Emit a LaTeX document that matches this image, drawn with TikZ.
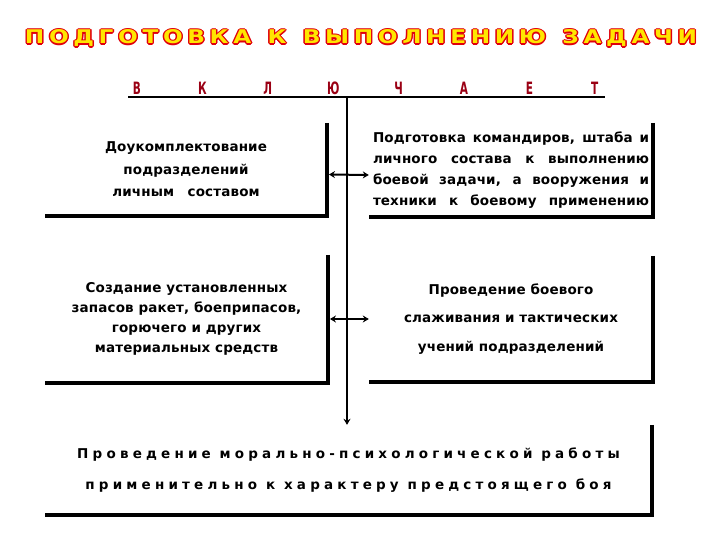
\documentclass[tikz,border=0pt]{standalone}
\usepackage{fontspec}
\setmainfont{DejaVu Sans}
\newfontfamily\boxfont[LetterSpace=1]{DejaVu Sans}
\newfontfamily\spreadfont[LetterSpace=31]{DejaVu Sans}
\newfontfamily\titlefont[LetterSpace=20]{DejaVu Sans}
\usetikzlibrary{arrows.meta}
\definecolor{titlered}{HTML}{E0000C}
\definecolor{titleyellow}{HTML}{FFE600}
\definecolor{wordred}{HTML}{9A0014}
\newcommand\taskhead{\resizebox{672pt}{14pt}{\titlefont\bfseries\fontsize{19}{20}\selectfont ПОДГОТОВКА\hspace{0.7em}К\hspace{0.7em}ВЫПОЛНЕНИЮ\hspace{0.7em}ЗАДАЧИ}}

\begin{document}
\begin{tikzpicture}[x=1pt,y=-1pt,>={Stealth[length=6pt,width=7pt]},
  panel/.style={rectangle,fill=white,inner sep=0pt,align=center},
  boxtext/.style={font=\boxfont\bfseries\fontsize{13.5}{#1}\selectfont},
  shadow/.style={line width=3.5pt,line join=miter},
  link/.style={<->,line width=2pt},
  letter/.style={text=wordred,font=\bfseries\fontsize{17}{18}\selectfont,inner sep=0pt}]
\useasboundingbox (0,0) rectangle (720,540);

% title: red rim drawn as shifted copies, yellow on top
\foreach \a in {0,45,...,315}
  \node[anchor=base,inner sep=0pt,text=titlered,shift={(\a:1.4)}] at (361,44) {\taskhead};
\node[anchor=base,inner sep=0pt,text=titleyellow] (head) at (361,44) {\taskhead};

% spaced word and its rule
\foreach \ch [count=\i] in {В,К,Л,Ю,Ч,А,Е,Т}
  \node[letter] (w\i) at ({137+(\i-1)*65.4},88) {\scalebox{0.62}[1]{\ch}};
\coordinate (ruleL) at (128,97);
\coordinate (ruleR) at (605,97);
\coordinate (spine) at (347,97);
\draw[line width=1.5pt] (ruleL) -- (ruleR);

% panels
\node[panel,boxtext=22.5,minimum width=282pt,minimum height=93pt] (staff) at (186,169.5)
  {Доукомплектование\\подразделений\\личным\quad составом};
\node[panel,boxtext=21,minimum width=284pt,minimum height=94pt] (training) at (511,170)
  {\makebox[276pt][s]{Подготовка командиров, штаба и}\\
   \makebox[276pt][s]{личного состава к выполнению}\\
   \makebox[276pt][s]{боевой задачи, а вооружения и}\\
   \makebox[276pt][s]{техники к боевому применению}};
\node[panel,boxtext=20,minimum width=283pt,minimum height=128pt] (stock) at (186.5,319)
  {Создание установленных\\запасов ракет, боеприпасов,\\горючего и других\\материальных средств};
\node[panel,boxtext=28.5,minimum width=284pt,minimum height=126pt] (drill) at (511,319)
  {Проведение боевого\\слаживания и тактических\\учений подразделений};
\node[panel,font=\spreadfont\bfseries\fontsize{13.5}{31}\selectfont,minimum width=607pt,minimum height=90pt] (morale) at (348.5,470)
  {Проведение морально-психологической работы\\применительно к характеру предстоящего боя};

\foreach \b in {staff,training,stock,drill,morale}
  \draw[shadow] (\b.north east) -- (\b.south east) -- (\b.south west);

% connectors
\draw[->,line width=2.5pt] (spine) -- (spine |- morale.north);
\draw[link] ([xshift=1.75pt,yshift=-5pt]staff.east) -- ([yshift=-5pt]training.west);
\draw[link] ([xshift=1.75pt]stock.east) -- (drill.west);
\end{tikzpicture}
\end{document}
